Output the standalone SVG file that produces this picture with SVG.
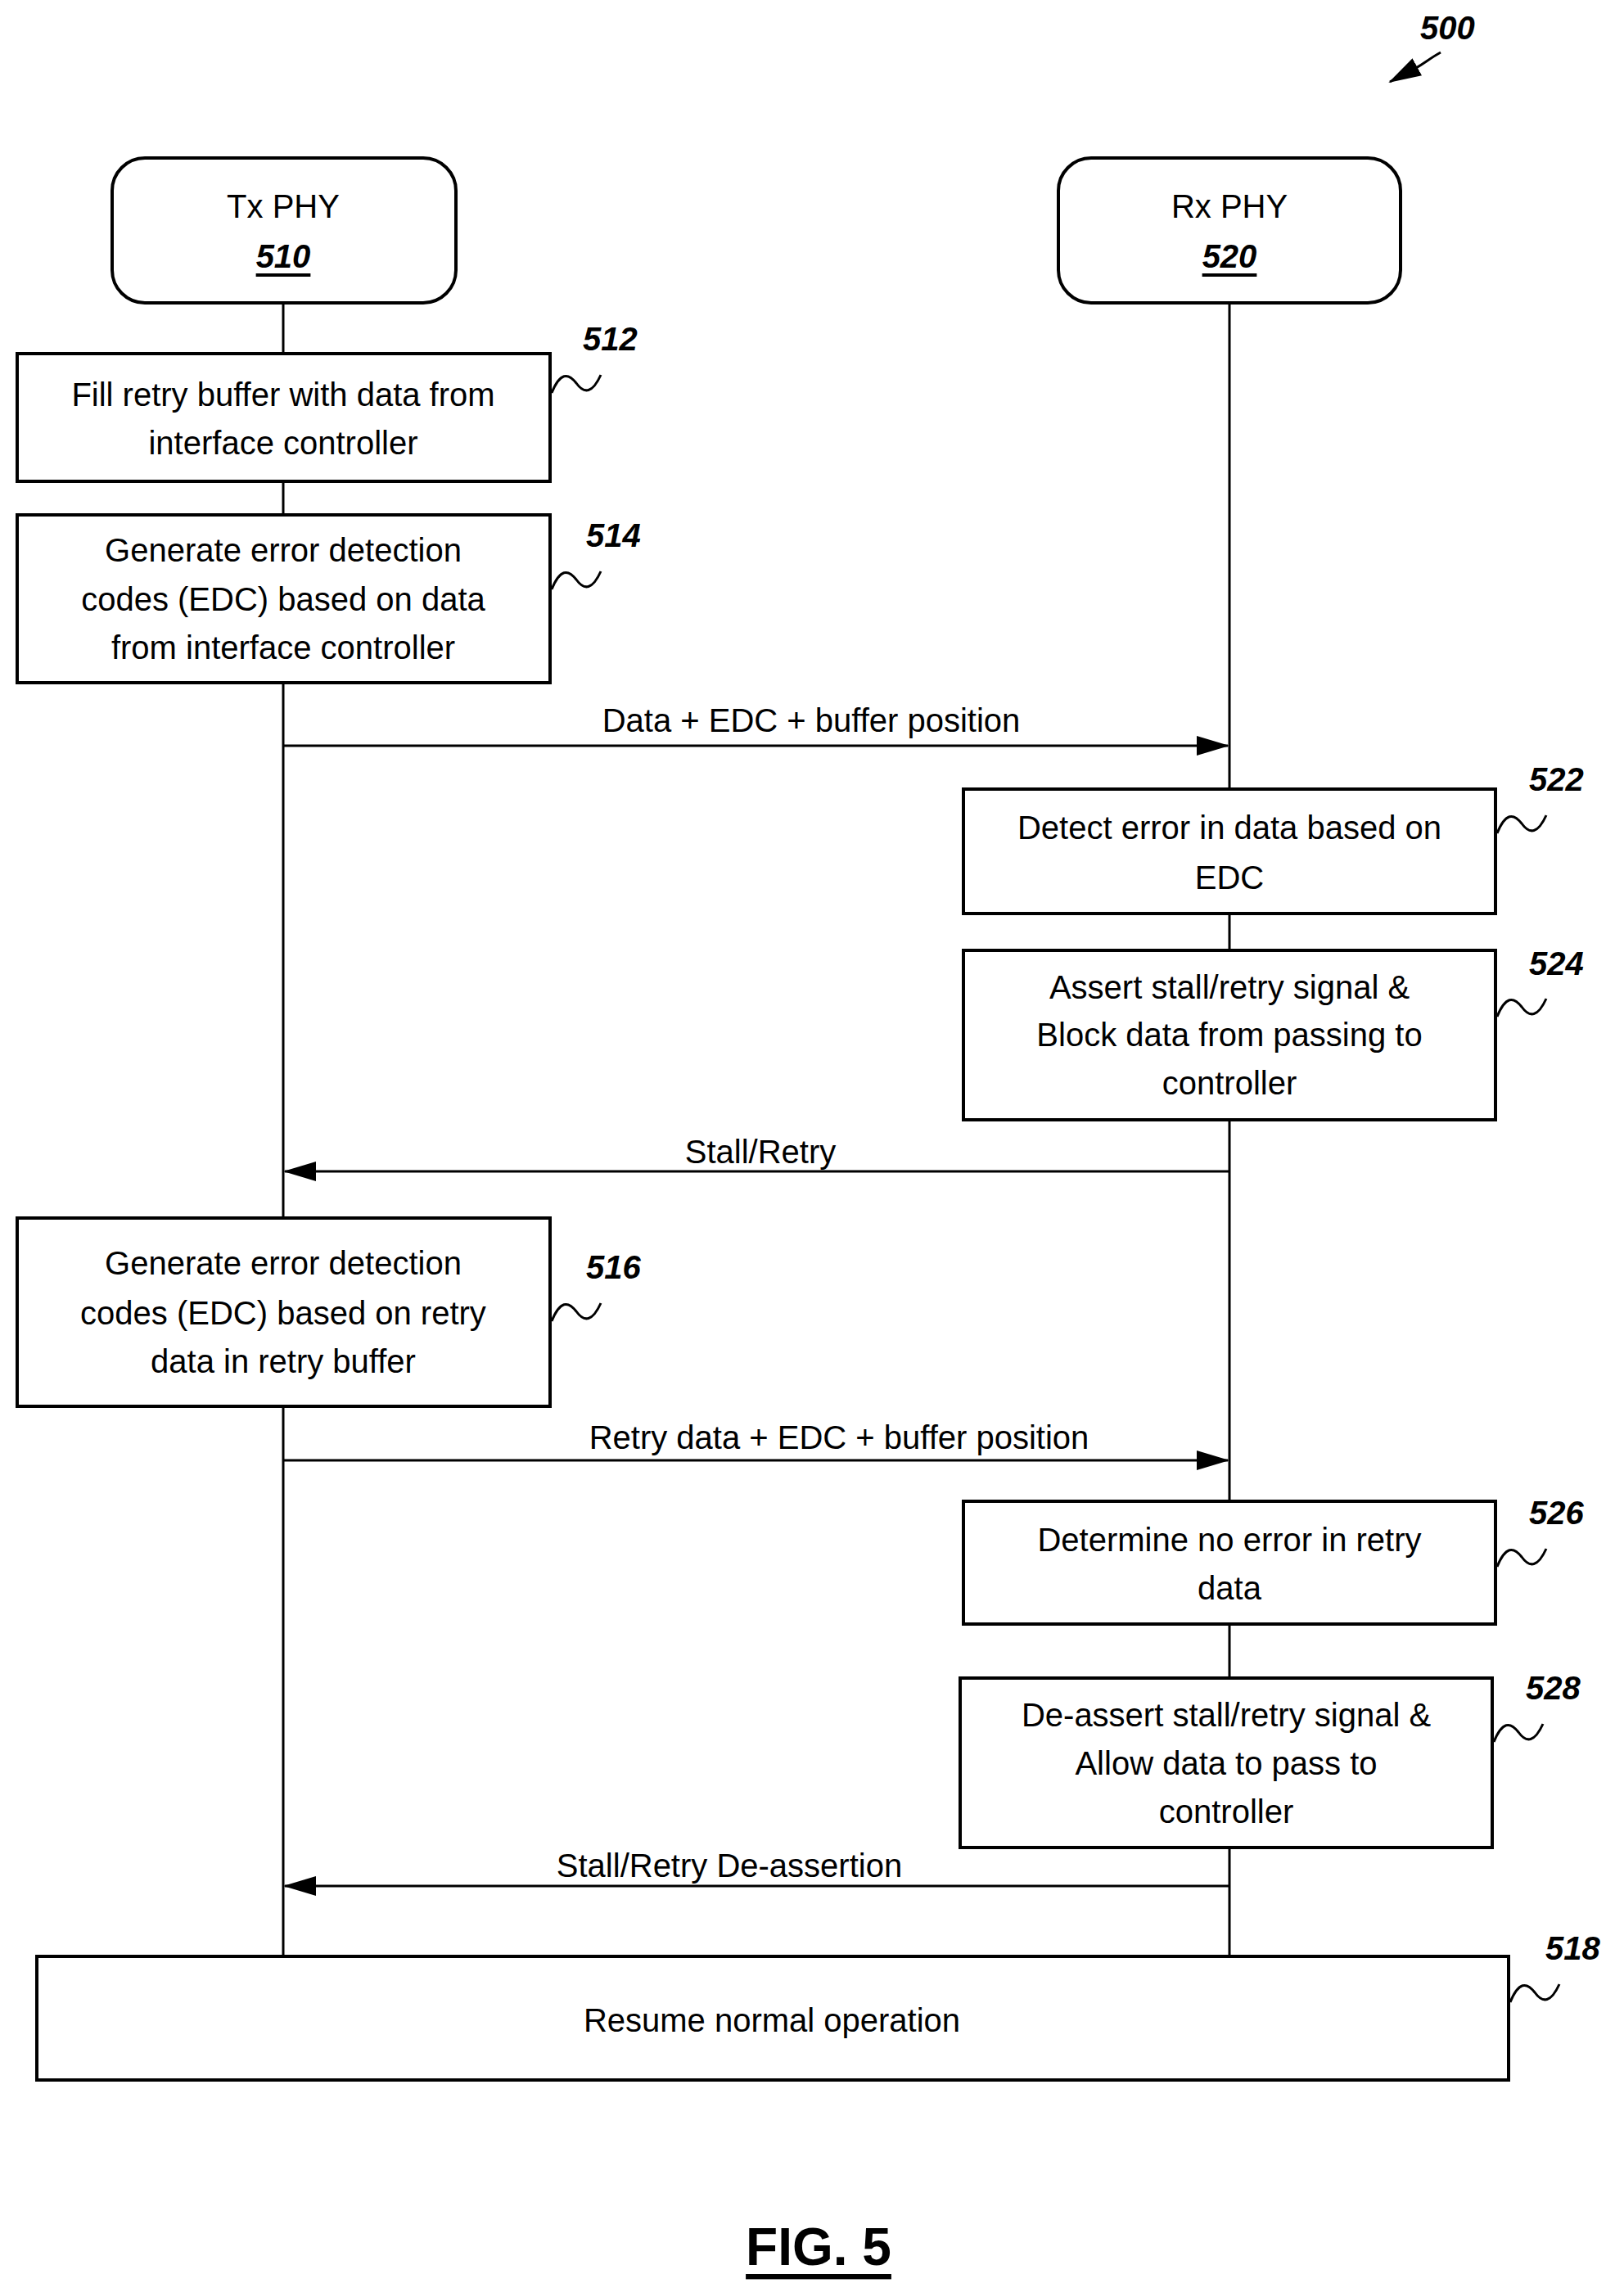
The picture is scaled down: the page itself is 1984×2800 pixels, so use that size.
<svg xmlns="http://www.w3.org/2000/svg" width="1984" height="2800" viewBox="0 0 1984 2800">
<style>
.b{fill:#fff;stroke:#000;stroke-width:4}
.t{font-family:"Liberation Sans",Arial,sans-serif;font-size:40px;text-anchor:middle;dominant-baseline:central;fill:#000}
.n{font-family:"Liberation Sans",Arial,sans-serif;font-size:40px;font-weight:bold;font-style:italic;fill:#000}
.l{stroke:#000;stroke-width:3;fill:none}
.s{stroke:#000;stroke-width:3;fill:none}
</style>
<defs>
<marker id="a" markerWidth="12" markerHeight="10" refX="11" refY="5" orient="auto" markerUnits="userSpaceOnUse" viewBox="0 0 12 10"><path d="M0,0L12,5L0,10z" fill="#000"/></marker>
<marker id="a2" markerWidth="40" markerHeight="24" refX="38" refY="12" orient="auto" markerUnits="userSpaceOnUse" viewBox="0 0 40 24"><path d="M0,0L40,12L0,24z" fill="#000"/></marker>
<path id="sq" d="M0,0 C10,-25 20,-25 30,-12 C40,2 50,0 60,-22"/>
</defs>
<g id="connectors">
<line class="l" x1="346" y1="370" x2="346" y2="2390"/>
<line class="l" x1="1502" y1="370" x2="1502" y2="2390"/>
<line class="l" x1="346" y1="911" x2="1500" y2="911" marker-end="url(#a2)"/>
<line class="l" x1="1502" y1="1431" x2="348" y2="1431" marker-end="url(#a2)"/>
<line class="l" x1="346" y1="1784" x2="1500" y2="1784" marker-end="url(#a2)"/>
<line class="l" x1="1502" y1="2304" x2="348" y2="2304" marker-end="url(#a2)"/>
<text class="t" x="991" y="880">Data + EDC + buffer position</text>
<text class="t" x="929" y="1407">Stall/Retry</text>
<text class="t" x="1025" y="1756">Retry data + EDC + buffer position</text>
<text class="t" x="891" y="2279">Stall/Retry De-assertion</text>
</g>
<g id="n510"><rect class="b" x="137" y="193" width="420" height="177" rx="40"/><text class="t" x="346" y="252">Tx PHY</text><text class="t" x="346" y="313" font-weight="bold" font-style="italic" text-decoration="underline">510</text></g>
<g id="n520"><rect class="b" x="1293" y="193" width="418" height="177" rx="40"/><text class="t" x="1502" y="252">Rx PHY</text><text class="t" x="1502" y="313" font-weight="bold" font-style="italic" text-decoration="underline">520</text></g>
<g id="n512"><rect class="b" x="21" y="432" width="651" height="156"/><text class="t" x="346" y="482">Fill retry buffer with data from</text><text class="t" x="346" y="541">interface controller</text><use href="#sq" class="s" transform="translate(674,480)"/><text class="n" x="712" y="428">512</text></g>
<g id="n514"><rect class="b" x="21" y="629" width="651" height="205"/><text class="t" x="346" y="672">Generate error detection</text><text class="t" x="346" y="732">codes (EDC) based on data</text><text class="t" x="346" y="791">from interface controller</text><use href="#sq" class="s" transform="translate(674,720)"/><text class="n" x="716" y="668">514</text></g>
<g id="n522"><rect class="b" x="1177" y="964" width="650" height="152"/><text class="t" x="1502" y="1011">Detect error in data based on</text><text class="t" x="1502" y="1072">EDC</text><use href="#sq" class="s" transform="translate(1829,1018)"/><text class="n" x="1868" y="966">522</text></g>
<g id="n524"><rect class="b" x="1177" y="1161" width="650" height="207"/><text class="t" x="1502" y="1206">Assert stall/retry signal &amp;</text><text class="t" x="1502" y="1264">Block data from passing to</text><text class="t" x="1502" y="1323">controller</text><use href="#sq" class="s" transform="translate(1829,1242)"/><text class="n" x="1868" y="1191">524</text></g>
<g id="n516"><rect class="b" x="21" y="1488" width="651" height="230"/><text class="t" x="346" y="1543">Generate error detection</text><text class="t" x="346" y="1604">codes (EDC) based on retry</text><text class="t" x="346" y="1663">data in retry buffer</text><use href="#sq" class="s" transform="translate(674,1614)"/><text class="n" x="716" y="1562">516</text></g>
<g id="n526"><rect class="b" x="1177" y="1834" width="650" height="150"/><text class="t" x="1502" y="1881">Determine no error in retry</text><text class="t" x="1502" y="1940">data</text><use href="#sq" class="s" transform="translate(1829,1914)"/><text class="n" x="1868" y="1862">526</text></g>
<g id="n528"><rect class="b" x="1173" y="2050" width="650" height="207"/><text class="t" x="1498" y="2095">De-assert stall/retry signal &amp;</text><text class="t" x="1498" y="2154">Allow data to pass to</text><text class="t" x="1498" y="2213">controller</text><use href="#sq" class="s" transform="translate(1825,2128)"/><text class="n" x="1864" y="2076">528</text></g>
<g id="n518"><rect class="b" x="45" y="2390" width="1798" height="151"/><text class="t" x="943" y="2468">Resume normal operation</text><use href="#sq" class="s" transform="translate(1845,2446)"/><text class="n" x="1888" y="2394">518</text></g>
<g id="n500"><text class="n" x="1735" y="48">500</text><path class="s" d="M1760,64 C1745,72 1735,82 1720,88 L1698,100" marker-end="url(#a2)"/></g>
<g id="fig"><text x="1000" y="2745" font-family="Liberation Sans,Arial,sans-serif" font-size="64" font-weight="bold" text-anchor="middle" dominant-baseline="central" text-decoration="underline">FIG. 5</text></g>
</svg>
